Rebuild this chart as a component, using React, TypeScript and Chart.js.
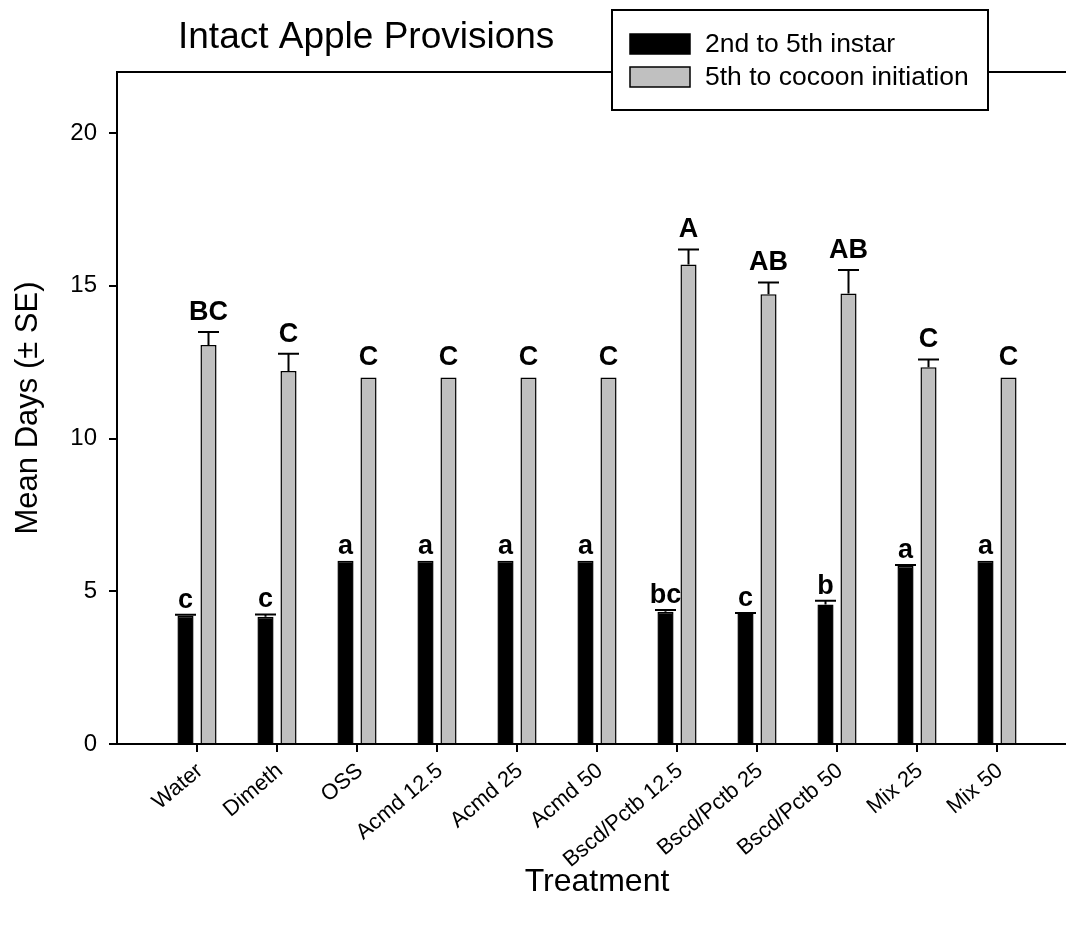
import React, { useEffect, useRef } from 'react';
import { Chart, registerables } from 'chart.js';

Chart.register(...registerables);

const chartTitle = 'Intact Apple Provisions';
const xTitle = 'Treatment';
const yTitle = 'Mean Days (± SE)';

const categories = [
  'Water', 'Dimeth', 'OSS', 'Acmd 12.5', 'Acmd 25', 'Acmd 50',
  'Bscd/Pctb 12.5', 'Bscd/Pctb 25', 'Bscd/Pctb 50', 'Mix 25', 'Mix 50',
];
const seriesNames = ['2nd to 5th instar', '5th to cocoon initiation'];

const instarMeans = [4.2, 4.17, 6, 6, 6, 6, 4.33, 4.27, 4.57, 5.83, 6];
const instarSE = [0.03, 0.07, 0, 0, 0, 0, 0.06, 0.02, 0.12, 0.03, 0];
const instarLetters = ['c', 'c', 'a', 'a', 'a', 'a', 'bc', 'c', 'b', 'a', 'a'];

const cocoonMeans = [13.06, 12.21, 12, 12, 12, 12, 15.7, 14.72, 14.75, 12.33, 12];
const cocoonSE = [0.43, 0.57, 0, 0, 0, 0, 0.49, 0.39, 0.77, 0.26, 0];
const cocoonLetters = ['BC', 'C', 'C', 'C', 'C', 'C', 'A', 'AB', 'AB', 'C', 'C'];

const yTicks = [0, 5, 10, 15, 20];
const yMin = 0;
const yMax = 22;

const FONT = '"Liberation Sans", Arial, Helvetica, sans-serif';

// padded so the category axis spans one empty slot on each side
const pad = <T,>(arr: T[]): (T | null)[] => [null, ...arr, null];
const labels = ['', ...categories, ''];

const annotatePlugin = {
  id: 'annotate',
  afterDatasetsDraw(chart: any) {
    const ctx = chart.ctx;
    const yScale = chart.scales.y;
    chart.data.datasets.forEach((ds: any, di: number) => {
      const meta = chart.getDatasetMeta(di);
      meta.data.forEach((bar: any, i: number) => {
        const v = ds.data[i];
        if (v == null) return;
        const s = ds.se[i] || 0;
        let top = bar.y;
        ctx.save();
        ctx.strokeStyle = '#000';
        ctx.lineWidth = 2;
        if (s > 0) {
          const yt = yScale.getPixelForValue(v + s);
          ctx.beginPath();
          ctx.moveTo(bar.x, bar.y);
          ctx.lineTo(bar.x, yt);
          ctx.moveTo(bar.x - 10.5, yt);
          ctx.lineTo(bar.x + 10.5, yt);
          ctx.stroke();
          top = yt;
        }
        ctx.fillStyle = '#000';
        ctx.font = `bold 27px ${FONT}`;
        ctx.textAlign = 'center';
        ctx.textBaseline = 'alphabetic';
        ctx.fillText(ds.letters[i], bar.x, top - ds.letterGap);
        ctx.restore();
      });
    });
  },
};

const framePlugin = {
  id: 'frame',
  afterDraw(chart: any) {
    const ctx = chart.ctx;
    const a = chart.chartArea;
    ctx.save();
    // top frame line
    ctx.strokeStyle = '#000';
    ctx.lineWidth = 2;
    ctx.beginPath();
    ctx.moveTo(a.left - 1, a.top);
    ctx.lineTo(a.right, a.top);
    ctx.stroke();

    // chart title
    ctx.fillStyle = '#000';
    ctx.font = `37px ${FONT}`;
    ctx.textAlign = 'left';
    ctx.textBaseline = 'alphabetic';
    ctx.fillText(chartTitle, 178, 48);

    // legend box
    const bx = 612, by = 10, bw = 376, bh = 100;
    ctx.fillStyle = '#fff';
    ctx.fillRect(bx, by, bw, bh);
    ctx.lineWidth = 2;
    ctx.strokeStyle = '#000';
    ctx.strokeRect(bx, by, bw, bh);
    const rows = [44, 77];
    chart.data.datasets.forEach((ds: any, di: number) => {
      const cy = rows[di];
      ctx.fillStyle = ds.backgroundColor;
      ctx.fillRect(630, cy - 10, 60, 20);
      ctx.lineWidth = 1.5;
      ctx.strokeStyle = '#000';
      ctx.strokeRect(630, cy - 10, 60, 20);
      ctx.fillStyle = '#000';
      ctx.font = `26.5px ${FONT}`;
      ctx.textAlign = 'left';
      ctx.textBaseline = 'middle';
      ctx.fillText(ds.label, 705, cy + 1);
    });
    ctx.restore();
  },
};

export default function App() {
  const ref = useRef<HTMLCanvasElement | null>(null);

  useEffect(() => {
    if (!ref.current) return;
    const lastIdx = labels.length - 1;
    const chart = new Chart(ref.current, {
      type: 'bar',
      data: {
        labels,
        datasets: [
          {
            label: seriesNames[0],
            data: pad(instarMeans),
            se: pad(instarSE),
            letters: pad(instarLetters),
            letterGap: 7,
            backgroundColor: '#000000',
            borderColor: '#000000',
            borderWidth: 1.5,
            categoryPercentage: 0.575,
            barPercentage: 0.7,
          } as any,
          {
            label: seriesNames[1],
            data: pad(cocoonMeans),
            se: pad(cocoonSE),
            letters: pad(cocoonLetters),
            letterGap: 12,
            backgroundColor: '#c0c0c0',
            borderColor: '#000000',
            borderWidth: 1.5,
            categoryPercentage: 0.575,
            barPercentage: 0.7,
          } as any,
        ],
      },
      options: {
        responsive: false,
        animation: false,
        devicePixelRatio: 1,
        layout: { padding: { top: 72, right: 13, bottom: 0, left: 0 } },
        plugins: {
          legend: { display: false },
          title: { display: false },
          tooltip: { enabled: false },
        },
        scales: {
          x: {
            type: 'category',
            offset: false,
            grid: {
              offset: false,
              drawOnChartArea: false,
              drawTicks: true,
              tickLength: 8,
              lineWidth: 2,
              tickColor: (c: any) => (c.index === 0 || c.index === lastIdx ? 'rgba(0,0,0,0)' : '#000'),
            },
            border: { display: true, color: '#000', width: 2 },
            ticks: {
              autoSkip: false,
              minRotation: 40,
              maxRotation: 40,
              padding: 6,
              labelOffset: 3,
              color: '#000',
              font: { family: FONT, size: 22 },
            },
            title: {
              display: true,
              text: xTitle,
              color: '#000',
              font: { family: FONT, size: 32 },
              padding: { top: 0, bottom: 25 },
            },
            afterFit: (s: any) => {
              s.height = 182;
              s.paddingLeft = 0;
              s.paddingRight = 0;
            },
          },
          y: {
            type: 'linear',
            min: yMin,
            max: yMax,
            grid: {
              drawOnChartArea: false,
              drawTicks: true,
              tickLength: 8,
              lineWidth: 2,
              tickColor: '#000',
            },
            border: { display: true, color: '#000', width: 2 },
            ticks: {
              includeBounds: false,
              padding: 12,
              color: '#000',
              font: { family: FONT, size: 24 },
            },
            afterBuildTicks: (s: any) => { s.ticks = yTicks.map((v) => ({ value: v })); },
            title: {
              display: true,
              text: yTitle,
              color: '#000',
              font: { family: FONT, size: 31 },
              padding: { top: 10, bottom: 0 },
            },
            afterFit: (s: any) => { s.width = 117; },
          },
        },
      } as any,
      plugins: [annotatePlugin, framePlugin],
    });
    return () => chart.destroy();
  }, []);

  return (
    <div
      style={{
        position: 'fixed',
        left: 0,
        top: 0,
        width: 1066,
        height: 926,
        overflow: 'hidden',
        background: '#fff',
      }}
    >
      <canvas ref={ref} width={1090} height={926} style={{ display: 'block' }} />
    </div>
  );
}
